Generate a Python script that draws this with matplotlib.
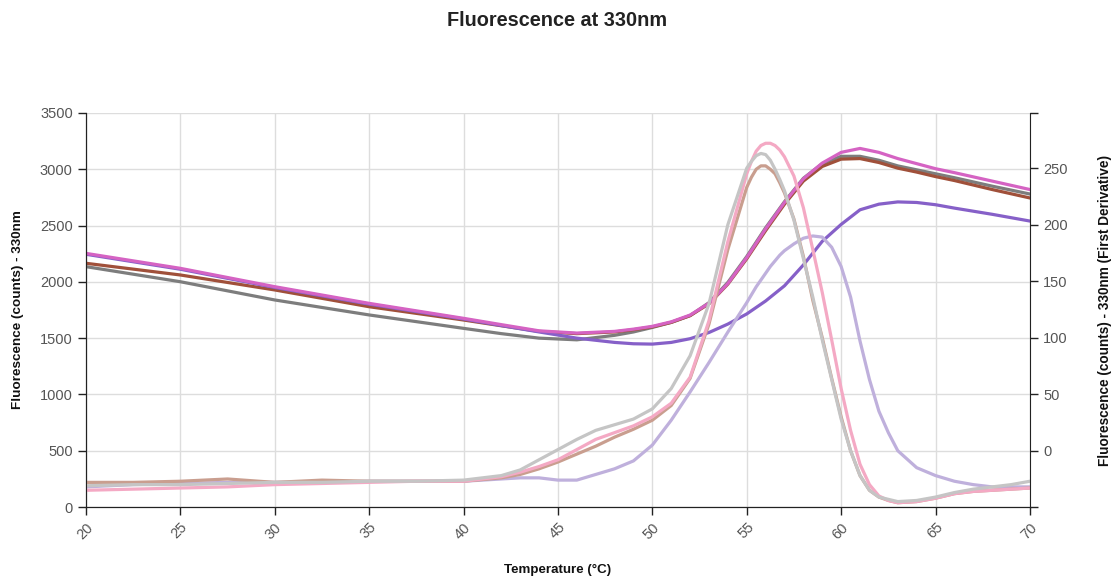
import matplotlib
matplotlib.use("Agg")
import matplotlib.pyplot as plt

plt.rcParams['font.family'] = ['Liberation Sans', 'DejaVu Sans']

# raw fluorescence (left axis)
temp_raw = [20, 25, 30, 35, 40, 42, 44, 46, 48, 49, 50, 51, 52, 53, 54, 55, 56, 57,
            58, 59, 60, 61, 62, 63, 64, 65, 66, 68, 70]
raw_magenta = [2253, 2120, 1957, 1809, 1676, 1620, 1565, 1545, 1560, 1580, 1605, 1645, 1705,
               1810, 1985, 2215, 2470, 2705, 2915, 3055, 3150, 3185, 3150, 3095, 3050, 3005,
               2970, 2895, 2820]
raw_brown = [2165, 2061, 1928, 1779, 1661, 1610, 1560, 1540, 1555, 1575, 1600, 1640, 1700,
             1805, 1980, 2205, 2455, 2690, 2895, 3025, 3090, 3095, 3060, 3010, 2975, 2935,
             2900, 2820, 2745]
raw_gray = [2135, 2001, 1839, 1706, 1587, 1540, 1500, 1485, 1525, 1555, 1595, 1640, 1700,
            1815, 1995, 2225, 2480, 2712, 2920, 3050, 3115, 3115, 3080, 3030, 2995, 2960,
            2925, 2850, 2780]
raw_purple = [2245, 2112, 1950, 1802, 1670, 1612, 1555, 1500, 1462, 1450, 1447, 1462, 1495,
              1550, 1625, 1715, 1830, 1965, 2150, 2360, 2510, 2640, 2690, 2710, 2705, 2685,
              2655, 2600, 2540]

# first derivative (right axis)
temp_der = [20, 22.5, 25, 27.5, 30, 32.5, 35, 37.5, 40, 42, 43, 44, 45, 46, 47, 48, 49, 50,
            51, 52, 53, 54, 55, 55.25, 55.5, 55.75, 56, 56.25, 56.5, 56.75, 57, 57.5, 58,
            58.5, 59, 59.5, 60, 60.5, 61, 61.5, 62, 62.5, 63, 64, 65, 66, 67, 68, 69, 70]
der_pink = [-35, -34, -33, -32, -30, -29, -28, -27, -27, -23, -19, -14, -8, 1, 10, 16, 22, 30,
            42, 65, 115, 185, 245, 256, 265, 270, 272, 272, 270, 266, 260, 243, 215,
            178, 140, 98, 55, 18, -12, -30, -40, -44, -46, -45, -42, -38, -36, -35, -34, -33]
der_gray = [-31, -30, -30, -29, -28, -28, -27, -27, -26, -22, -17, -8, 1, 10, 18, 23, 28, 37,
            55, 84, 130, 200, 250, 256, 261, 263, 262, 257, 249, 240, 230, 204, 170,
            136, 98, 63, 28, 0, -22, -35, -41, -43, -45, -44, -41, -37, -34, -32, -30, -27]
der_brown = [-28, -28, -27, -25, -28, -26, -27, -27, -27, -24, -21, -16, -10, -3, 4, 12, 19, 27,
             40, 64, 112, 178, 233, 242, 249, 252, 252, 249, 245, 237, 228, 205, 172,
             133, 100, 64, 30, 0, -22, -35, -41, -44, -46, -45, -42, -38, -36, -35, -34, -33]
der_lavender = [-32, -30, -29, -28, -28, -28, -27, -27, -27, -25, -24, -24, -26, -26, -21, -16,
                -9, 5, 27, 52, 78, 105, 131, 138, 145, 151, 157, 163, 168, 173, 177, 183, 188,
                190, 189, 180, 163, 136, 97, 63, 35, 16, 0, -15, -22, -27, -30, -32, -32, -32]

fig = plt.figure(figsize=(11.15, 5.77), dpi=100)
ax = fig.add_axes([0.0771, 0.1213, 0.8466, 0.6829])
ax2 = ax.twinx()

lw = 2.3
ax.plot(temp_raw, raw_gray, color="#7d7d7d", lw=lw)
ax.plot(temp_raw, raw_brown, color="#a0503a", lw=lw)
ax.plot(temp_raw, raw_purple, color="#8660c8", lw=lw)
ax.plot(temp_raw, raw_magenta, color="#d563c3", lw=lw)

ax2.plot(temp_der, der_lavender, color="#bfb0dc", lw=lw)
ax2.plot(temp_der, der_brown, color="#c99e8f", lw=lw)
ax2.plot(temp_der, der_pink, color="#f4a9c4", lw=lw)
ax2.plot(temp_der, der_gray, color="#c5c5c5", lw=lw)

ax.set_xlim(20, 70)
ax.set_ylim(0, 3500)
ax2.set_ylim(-49.8, 298.8)
ax.set_xticks(range(20, 71, 5))
ax.set_yticks(range(0, 3501, 500))
ax2.set_yticks(range(0, 251, 50))
ax2.set_yticks([-49.8, 298.8], minor=True)
ax2.tick_params(axis='y', which='minor', length=6, width=1, color='#222')

ax.grid(True, color='#dddddd', lw=1)
ax.set_axisbelow(True)

for a in (ax, ax2):
    a.spines['top'].set_visible(False)
    for s in a.spines.values():
        s.set_color('#222')
    a.tick_params(length=6, width=1, color='#222', labelsize=10.5, labelcolor='#555')
ax.spines['right'].set_visible(False)

for lab in ax.get_xticklabels():
    lab.set_rotation(45)
    lab.set_ha('right')
    lab.set_va('top')
    lab.set_rotation_mode('anchor')

fig.text(0.4996, 0.965, "Fluorescence at 330nm", ha='center', va='center',
         fontsize=14.3, fontweight='bold', color='#222')
fig.text(0.5, 0.012, "Temperature (°C)", ha='center', va='center',
         fontsize=9.6, fontweight='bold', color='#111')
fig.text(0.016, 0.4627, "Fluorescence (counts) - 330nm", ha='center', va='center',
         rotation=90, fontsize=9.7, fontweight='bold', color='#111')
fig.text(0.991, 0.4627, "Fluorescence (counts) - 330nm (First Derivative)", ha='center',
         va='center', rotation=90, fontsize=9.8, fontweight='bold', color='#111')

fig.savefig("out.png", dpi=100)
